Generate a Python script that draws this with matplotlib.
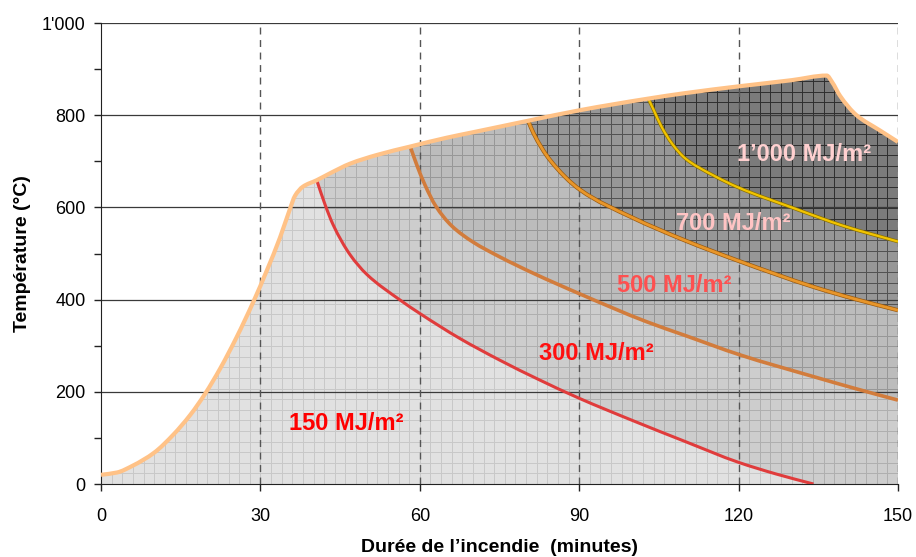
import numpy as np
import matplotlib
matplotlib.use("Agg")
import matplotlib.pyplot as plt
import matplotlib.patheffects as pe
from matplotlib.path import Path
from matplotlib.patches import PathPatch
from matplotlib.ticker import FuncFormatter, MultipleLocator

plt.rcParams['font.family'] = ['Liberation Sans', 'DejaVu Sans']

# Fire curve (heating phase + plateau + decay for 1'000 MJ/m2)
env_t = [0, 3, 6, 10, 13.6, 16.8, 19.6, 22.4, 25.5, 28.7, 31.2, 33.7, 35.6, 36.5,
         38, 40.6, 43.1, 46.9, 52, 58.2, 65, 70, 75, 80.4, 90.2, 103, 110, 120.3,
         130, 136.6, 137.6, 139.1, 142.2, 146.6, 150]
env_T = [20, 25, 40, 68, 107, 150, 196, 250, 318, 396, 463, 535, 598, 625,
         645, 659, 674, 695, 714, 732, 751, 763, 775, 788, 811, 836, 848, 863,
         876, 886, 872, 842, 800, 767, 742]

# Decay branches per fire load
t150 = [40.6, 42.2, 43.7, 46.9, 50, 56.3, 60, 67.5, 75, 82.5, 90, 100, 110, 120,
        127, 134.1]
T150 = [659, 605, 562, 497, 455, 399, 370, 316, 269, 226, 186, 138, 92, 47,
        22, 0]
t300 = [58.2, 59.5, 61, 63, 66, 70, 75, 81.4, 90.2, 102.7, 110, 120.3, 134.1, 142, 150]
T300 = [732, 690, 648, 603, 560, 525, 493, 457, 412, 352, 322, 280, 233, 207, 182]
t500 = [80.4, 81.4, 84.5, 90.2, 100, 110, 120, 134, 142, 150]
T500 = [788, 761, 703, 638, 578, 528, 484, 428, 401, 377]
t700 = [103, 104, 105.5, 107.5, 110, 115, 120, 130, 140, 150]
T700 = [836, 812, 775, 738, 706, 671, 643, 600, 559, 526]

labels = ["150 MJ/m²", "300 MJ/m²", "500 MJ/m²", "700 MJ/m²", "1’000 MJ/m²"]
label_x = [46.2, 93.2, 107.9, 119.0, 132.3]
label_y = [132, 284, 430, 566, 714]
label_colors = ["#ff0000", "#ff1010", "#ff5050", "#ffc4c4", "#ffd0d0"]


def slopes(x, y):
    # monotone (Fritsch-Carlson) tangents so the smoothed line never overshoots
    x, y = np.asarray(x, float), np.asarray(y, float)
    h = np.diff(x)
    d = np.diff(y) / h
    m = np.zeros_like(y)
    m[0], m[-1] = d[0], d[-1]
    for i in range(1, len(y) - 1):
        if d[i - 1] * d[i] <= 0:
            m[i] = 0.0
        else:
            w1 = 2 * h[i] + h[i - 1]
            w2 = h[i] + 2 * h[i - 1]
            m[i] = (w1 + w2) / (w1 / d[i - 1] + w2 / d[i])
    return m


def bezier_segments(x, y):
    # cubic Bezier pieces through the points (like a smoothed spreadsheet line)
    m = slopes(x, y)
    verts, codes = [], []
    for i in range(len(x) - 1):
        h = x[i + 1] - x[i]
        verts += [(x[i] + h / 3, y[i] + m[i] * h / 3),
                  (x[i + 1] - h / 3, y[i + 1] - m[i + 1] * h / 3),
                  (x[i + 1], y[i + 1])]
        codes += [Path.CURVE4] * 3
    return verts, codes


def line_path(x, y):
    v, c = bezier_segments(x, y)
    return Path([(x[0], y[0])] + v, [Path.MOVETO] + c)


def region_path(t_dec=None, T_dec=None):
    if t_dec is None:
        xs, ys = list(env_t), list(env_T)
        v, c = bezier_segments(xs, ys)
        tail = [(150, 0), (0, 0), (0, 0)]
        return Path([(xs[0], ys[0])] + v + tail,
                    [Path.MOVETO] + c + [Path.LINETO, Path.LINETO, Path.CLOSEPOLY])
    t0 = t_dec[0]
    ex = [t for t in env_t if t < t0] + [t0]
    ey = [T for t, T in zip(env_t, env_T) if t < t0] + [T_dec[0]]
    v1, c1 = bezier_segments(ex, ey)
    v2, c2 = bezier_segments(t_dec, T_dec)
    tail = [(t_dec[-1], 0), (0, 0), (0, 0)]
    return Path([(ex[0], ey[0])] + v1 + v2 + tail,
                [Path.MOVETO] + c1 + c2 + [Path.LINETO, Path.LINETO, Path.CLOSEPOLY])


fig = plt.figure(figsize=(9.16, 5.57), dpi=100)
ax = fig.add_axes([0.1103, 0.131, 0.8700, 0.8277])
ax.set_xlim(0, 150)
ax.set_ylim(0, 1000)

regions = [
    (region_path(), "#7b7b7b", "#2e2e2e"),
    (region_path(t700, T700), "#979797", "#545454"),
    (region_path(t500, T500), "#bcbcbc", "#9a9a9a"),
    (region_path(t300, T300), "#cdcdcd", "#b0b0b0"),
    (region_path(t150, T150), "#e1e1e1", "#c9c9c9"),
]

hatch_x = np.arange(0, 151, 2)
hatch_y = np.arange(0, 1001, 23)
for path, fc, lc in regions:
    patch = PathPatch(path, facecolor=fc, lw=0, zorder=1)
    ax.add_patch(patch)
    vl = ax.vlines(hatch_x, 0, 1000, colors=lc, lw=0.7, zorder=1.1)
    hl = ax.hlines(hatch_y, 0, 150, colors=lc, lw=0.7, zorder=1.1)
    vl.set_clip_path(patch)
    hl.set_clip_path(patch)

# chart gridlines
ax.hlines([200, 400, 600, 800, 1000], 0, 150, colors="#3a3a3a", lw=0.9, zorder=2)
ax.vlines([30, 60, 90, 120, 150], 0, 1000, colors="#555555", lw=1.0,
          linestyles=(0, (5, 4)), zorder=2)

# curves
ax.add_patch(PathPatch(line_path(t150, T150), fill=False, edgecolor="#e03c3c",
                       lw=2.2, zorder=3, capstyle="butt"))
ax.add_patch(PathPatch(line_path(t300, T300), fill=False, edgecolor="#d27c3c",
                       lw=2.6, zorder=3, capstyle="butt"))
ax.add_patch(PathPatch(line_path(t500, T500), fill=False, edgecolor="#e8962a",
                       lw=2.0, zorder=3, capstyle="butt",
                       path_effects=[pe.Stroke(linewidth=3.0, foreground="#9a5a10"),
                                     pe.Normal()]))
ax.add_patch(PathPatch(line_path(t700, T700), fill=False, edgecolor="#f2c400",
                       lw=1.6, zorder=3, capstyle="butt",
                       path_effects=[pe.Stroke(linewidth=2.6, foreground="#8a7000"),
                                     pe.Normal()]))
ax.add_patch(PathPatch(line_path(env_t, env_T), fill=False, edgecolor="#ffc287",
                       lw=3.0, zorder=3.5, joinstyle="round"))

for txt, x, y, c in zip(labels, label_x, label_y, label_colors):
    ax.text(x, y, txt, color=c, fontsize=17, fontweight="bold",
            ha="center", va="center", zorder=4)

# axes styling
for side in ("top", "right"):
    ax.spines[side].set_visible(False)
ax.spines["left"].set_color("#222222")
ax.spines["bottom"].set_color("#222222")
ax.set_xticks([0, 30, 60, 90, 120, 150])
ax.set_yticks([0, 200, 400, 600, 800, 1000])
ax.yaxis.set_minor_locator(MultipleLocator(100))
ax.yaxis.set_major_formatter(FuncFormatter(
    lambda v, p: "1'000" if v >= 1000 else f"{int(v)}"))
ax.tick_params(axis="both", which="both", direction="out", length=5,
               width=1, colors="#222222", labelsize=13, labelcolor="black")
ax.tick_params(axis="x", pad=12)
ax.tick_params(axis="y", pad=6)

ax.set_xlabel("Durée de l’incendie  (minutes)", fontsize=14, fontweight="bold",
              labelpad=10)
ax.set_ylabel("Température (°C)", fontsize=14, fontweight="bold", labelpad=8)

fig.savefig("out.png", dpi=100)
